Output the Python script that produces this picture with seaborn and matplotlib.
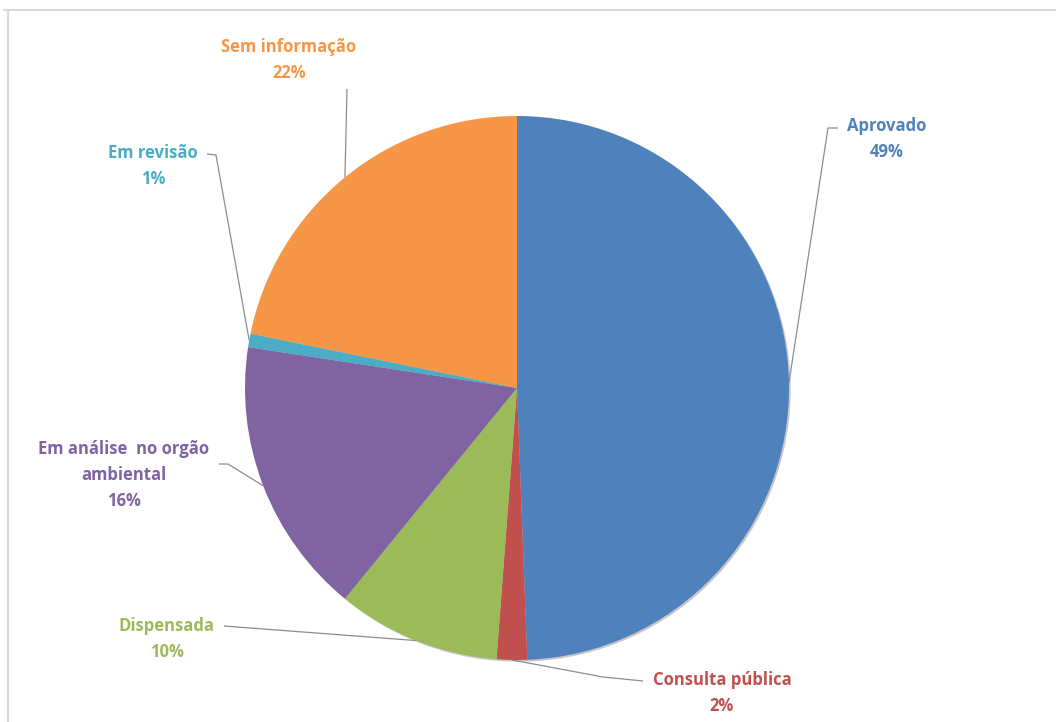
import numpy as np
import matplotlib
matplotlib.use("Agg")
import matplotlib.pyplot as plt
import matplotlib.patheffects as pe
from matplotlib.lines import Line2D
import seaborn as sns

# ---- data ----
categories = ["Aprovado", "Consulta pública", "Dispensada",
              "Em análise  no orgão\nambiental", "Em revisão", "Sem informação"]
values = [49.4, 1.8, 9.7, 16.5, 0.8, 21.8]
pct_labels = ["49%", "2%", "10%", "16%", "1%", "22%"]
colors = ["#4F81BD", "#C0504D", "#9BBB59", "#8064A2", "#4BACC6", "#F79646"]

sns.set_theme(style="white")
plt.rcParams['font.family'] = ['Open Sans', 'DejaVu Sans']

W, H = 1056, 722
fig = plt.figure(figsize=(W / 100, H / 100), dpi=100)
ax = fig.add_axes([0, 0, 1, 1])

cx, cy, R = 517, H - 388, 272

# soft shadow underneath the whole pie
shadow_w, _ = ax.pie(values, colors=["#ffffff"] * len(values), startangle=90,
                     counterclock=False, center=(cx, cy), radius=R, frame=True,
                     wedgeprops=dict(linewidth=0, zorder=0.5))
for w in shadow_w:
    w.set_path_effects([pe.SimplePatchShadow(offset=(1.2, -1.2), alpha=0.22,
                                             shadow_rgbFace="black")])

wedges, _ = ax.pie(values, colors=colors, startangle=90, counterclock=False,
                   center=(cx, cy), radius=R, frame=True,
                   wedgeprops=dict(linewidth=0, zorder=1))

ax.set_xlim(0, W)
ax.set_ylim(0, H)
ax.set_aspect("equal")
ax.axis("off")

# label layout: block centre (pixels from top) and leader path near the text
label_pos = [(887, 139), (722, 693), (167, 639), (124, 475), (153, 166), (289, 60)]
leader_pts = [
    [(828, 128), (838, 128)],
    [(603, 677), (643, 681)],
    [(224, 626)],
    [(228, 464), (219, 464)],
    [(216, 155), (207, 154)],
    [(347, 89)],
]

for w, cat, pct, col, (tx, ty), pts in zip(wedges, categories, pct_labels, colors,
                                            label_pos, leader_pts):
    mid = np.deg2rad((w.theta1 + w.theta2) / 2)
    ex, ey = cx + R * np.cos(mid), cy + R * np.sin(mid)
    xs = [ex] + [p[0] for p in pts]
    ys = [ey] + [H - p[1] for p in pts]
    ax.plot(xs, ys, color="#8c8c8c", lw=0.9, solid_capstyle="butt", zorder=0.8)
    ax.text(tx, H - ty, f"{cat}\n{pct}", color=col, ha="center", va="center",
            fontsize=12, fontweight="bold", linespacing=1.55)

# chart border (partial, as in the reference)
fig.add_artist(Line2D([4 / W, 1], [1 - 9.5 / H, 1 - 9.5 / H], color="#d9d9d9",
                      lw=1.5, transform=fig.transFigure))
fig.add_artist(Line2D([7.5 / W, 7.5 / W], [0, 1 - 9.5 / H], color="#d9d9d9",
                      lw=1.5, transform=fig.transFigure))

fig.savefig("out.png", dpi=100, facecolor="white")
